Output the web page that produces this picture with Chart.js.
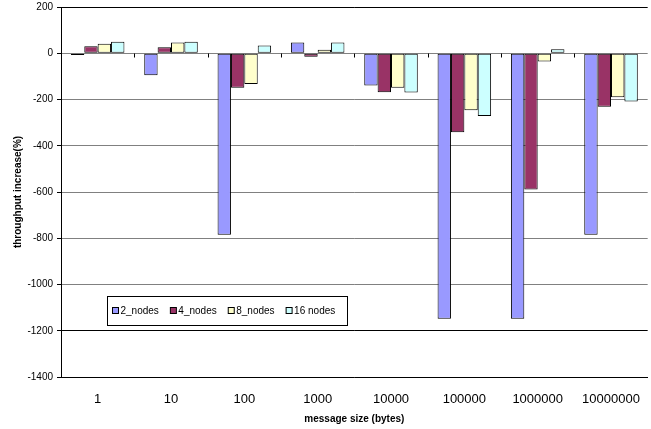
<!DOCTYPE html>
<html lang="en">
<head>
    <meta charset="UTF-8">
    <title>Throughput increase</title>
    <script src="https://cdn.jsdelivr.net/npm/chart.js"></script>
    <style>
        body {
            margin: 0;
            background: #ffffff;
            overflow: hidden;
        }
        .wrap {
            width: 655px;
            height: 429px;
        }
    </style>
</head>
<body>
    <div class="wrap">
        <canvas id="throughputChart" width="655" height="429"></canvas>
    </div>

    <script>
        // message sizes (bytes)
        const categories = ['1', '10', '100', '1000', '10000', '100000', '1000000', '10000000'];

        // throughput increase (%) per node count
        const nodes2 = [-8, -95, -785, 46, -139, -1148, -1148, -785];
        const nodes4 = [30, 26, -149, -15, -169, -342, -589, -231];
        const nodes8 = [41, 46, -133, 15, -149, -247, -36, -190];
        const nodes16 = [50, 50, 33, 47, -170, -271, 17, -209];

        const seriesNames = ['2_nodes', '4_nodes', '8_nodes', '16 nodes'];
        const yMin = -1400;
        const yMax = 200;
        const yStep = 200;

        const colors = ['#9999FF', '#993366', '#FFFFCC', '#CCFFFF'];
        const font = "'Liberation Sans', Arial, sans-serif";

        // little tick marks hanging off the zero line between categories
        const zeroTicks = {
            id: 'zeroTicks',
            afterDatasetsDraw(chart) {
                const x = chart.scales.x;
                const y = chart.scales.y;
                const ctx = chart.ctx;
                const y0 = Math.round(y.getPixelForValue(0)) + 0.5;
                const half = (x.getPixelForValue(1) - x.getPixelForValue(0)) / 2;
                ctx.save();
                ctx.strokeStyle = '#000';
                ctx.lineWidth = 1;
                for (let i = 1; i < categories.length; i++) {
                    const px = Math.round(x.getPixelForValue(i) - half) + 0.5;
                    ctx.beginPath();
                    ctx.moveTo(px, y0);
                    ctx.lineTo(px, y0 + 4);
                    ctx.stroke();
                }
                ctx.restore();
            }
        };

        // boxed legend sitting inside the plot
        const boxLegend = {
            id: 'boxLegend',
            afterDraw(chart) {
                const ctx = chart.ctx;
                const left = 107, top = 296, w = 240, h = 29;
                ctx.save();
                ctx.fillStyle = '#fff';
                ctx.fillRect(left + 0.5, top + 0.5, w, h);
                ctx.strokeStyle = '#000';
                ctx.lineWidth = 1;
                ctx.strokeRect(left + 0.5, top + 0.5, w, h);

                ctx.font = '10px ' + font;
                ctx.textBaseline = 'middle';
                let x = left + 5;
                const cy = top + h / 2 + 0.5;
                chart.data.datasets.forEach(ds => {
                    ctx.fillStyle = ds.backgroundColor;
                    ctx.fillRect(x + 0.5, cy - 3.5, 6, 6);
                    ctx.strokeStyle = '#000';
                    ctx.strokeRect(x + 0.5, cy - 3.5, 6, 6);
                    ctx.fillStyle = '#000';
                    ctx.fillText(ds.label, x + 8.5, cy);
                    x += 8.5 + ctx.measureText(ds.label).width + 11;
                });
                ctx.restore();
            }
        };

        const allSeries = [nodes2, nodes4, nodes8, nodes16];

        const ctx = document.getElementById('throughputChart').getContext('2d');
        new Chart(ctx, {
            type: 'bar',
            data: {
                labels: categories,
                datasets: allSeries.map((vals, i) => ({
                    label: seriesNames[i],
                    data: vals,
                    backgroundColor: colors[i],
                    borderColor: '#000',
                    borderWidth: 1,
                    borderSkipped: false,
                    categoryPercentage: 0.73,
                    barPercentage: 1.0
                }))
            },
            options: {
                responsive: false,
                animation: false,
                layout: {
                    padding: { top: 7, right: 1, left: 0, bottom: 0 }
                },
                plugins: {
                    legend: { display: false },
                    tooltip: { enabled: false }
                },
                scales: {
                    x: {
                        grid: { display: false, drawTicks: false },
                        border: { display: true, color: '#000', width: 1 },
                        ticks: {
                            color: '#000',
                            font: { family: font, size: 13 },
                            padding: 15,
                            maxRotation: 0,
                            autoSkip: false
                        },
                        title: {
                            display: true,
                            text: 'message size (bytes)',
                            color: '#000',
                            font: { family: font, size: 10, weight: 'bold' },
                            padding: { top: 0, bottom: 4 }
                        },
                        afterFit(scale) {
                            scale.height = 52;
                        }
                    },
                    y: {
                        min: yMin,
                        max: yMax,
                        ticks: {
                            stepSize: yStep,
                            color: '#000',
                            font: { family: font, size: 10 },
                            padding: 4,
                            callback: v => String(v)
                        },
                        grid: {
                            color: c => {
                                const v = c.tick ? c.tick.value : 0;
                                return (v === yMax || v === -1200) ? '#000' : '#808080';
                            },
                            tickColor: '#000',
                            tickLength: 4,
                            lineWidth: 1
                        },
                        border: { display: true, color: '#000', width: 1 },
                        title: {
                            display: true,
                            text: 'throughput increase(%)',
                            color: '#000',
                            font: { family: font, size: 10, weight: 'bold' },
                            padding: { top: 12, bottom: 0 }
                        },
                        afterFit(scale) {
                            scale.width = 61;
                            scale.paddingTop = 0;
                            scale.paddingBottom = 0;
                        }
                    }
                }
            },
            plugins: [zeroTicks, boxLegend]
        });
    </script>
</body>
</html>
